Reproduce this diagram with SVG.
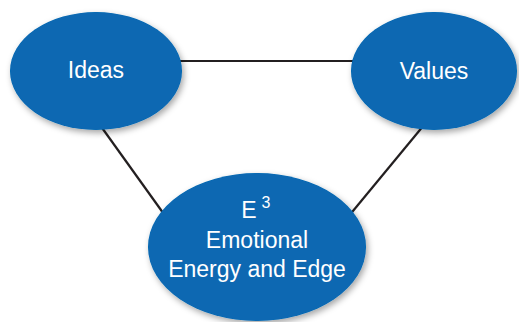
<svg xmlns="http://www.w3.org/2000/svg" width="519" height="322" viewBox="0 0 519 322">
  <defs>
    <filter id="shadow" x="-20%" y="-20%" width="140%" height="140%">
      <feDropShadow dx="2" dy="3" stdDeviation="3" flood-color="#000" flood-opacity="0.35"/>
    </filter>
  </defs>
  <style>
    .node ellipse { fill: #0767b2; filter: url(#shadow); }
    .node text { fill: #fff; font-family: "Liberation Sans", Arial, sans-serif; font-size: 23px; text-anchor: middle; }
    .edge { stroke: #231f20; stroke-width: 2.2; fill: none; }
  </style>
  <rect width="519" height="322" fill="#fff"/>

  <!-- connectors -->
  <g id="connectors">
    <line class="edge" x1="175" y1="61" x2="360" y2="61"/>
    <line class="edge" x1="100" y1="125" x2="166" y2="217"/>
    <line class="edge" x1="424" y1="125" x2="348" y2="217"/>
  </g>

  <g id="ideas" class="node">
    <ellipse cx="96" cy="71" rx="86" ry="59"/>
    <text x="96" y="78">Ideas</text>
  </g>

  <g id="values" class="node">
    <ellipse cx="434" cy="71" rx="83" ry="59"/>
    <text x="434" y="79">Values</text>
  </g>

  <g id="e3" class="node">
    <ellipse cx="257" cy="247" rx="109" ry="74"/>
    <text x="249" y="218">E</text>
    <text x="266" y="208" style="font-size:16px">3</text>
    <text x="257" y="248">Emotional</text>
    <text x="257" y="277">Energy and Edge</text>
  </g>
</svg>
